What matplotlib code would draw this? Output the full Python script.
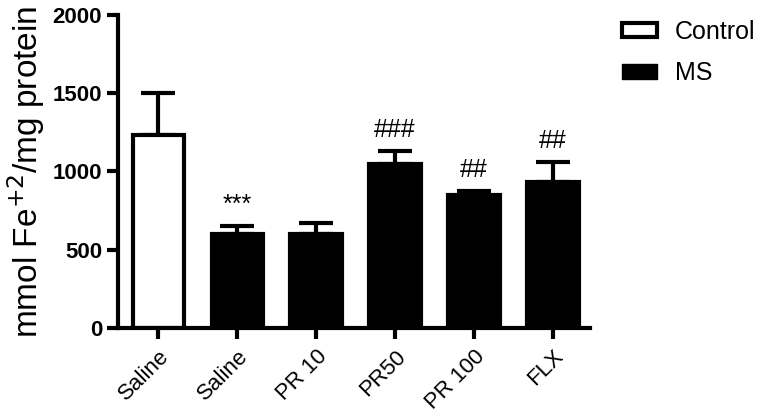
import matplotlib
matplotlib.use("Agg")
import matplotlib.pyplot as plt
from matplotlib.patches import Patch

plt.rcParams['font.family'] = ['Liberation Sans', 'DejaVu Sans']

# datos
grupos = ["Saline", "Saline", "PR 10", "PR50", "PR 100", "FLX"]
medias = [1233, 599, 600, 1048, 850, 931]
errores = [267, 55, 73, 85, 27, 132]
es_control = [True, False, False, False, False, False]
marcas = ["", "***", "", "###", "##", "##"]

fig = plt.figure(figsize=(7.63, 4.16), dpi=100)
ax = fig.add_axes([0.1547, 0.2115, 0.6186, 0.7525])

x = list(range(len(grupos)))
colores = ["white" if c else "black" for c in es_control]
ax.bar(x, medias, width=0.65, color=colores, edgecolor="black", linewidth=3, zorder=2)
ax.errorbar(x, medias, yerr=[[0] * len(errores), errores], fmt="none",
            ecolor="black", elinewidth=3, capsize=12, capthick=3, zorder=1)

# marcas de significancia sobre las barras
for xi, m, e, txt in zip(x, medias, errores, marcas):
    if txt:
        ax.text(xi, m + e + 55, txt, ha="center", va="bottom", fontsize=18, color="black")

ax.set_xlim(-0.51, 5.47)
ax.set_ylim(0, 2000)
ax.set_yticks([0, 500, 1000, 1500, 2000])
ax.set_xticks(x)
ax.set_xticklabels(grupos, rotation=45, ha="right", rotation_mode="anchor", fontsize=16)
for lab in ax.get_yticklabels():
    lab.set_fontsize(16)
    lab.set_fontweight("bold")
ax.tick_params(axis="both", width=3, length=8, direction="out")
ax.tick_params(axis="x", pad=5)
ax.spines["top"].set_visible(False)
ax.spines["right"].set_visible(False)
ax.spines["left"].set_linewidth(3)
ax.spines["bottom"].set_linewidth(3)
ax.set_ylabel("mmol Fe$^{+2}$/mg protein", fontsize=24, labelpad=4)

handles = [Patch(facecolor="white", edgecolor="black", linewidth=3, label="Control"),
           Patch(facecolor="black", edgecolor="black", label="MS")]
ax.legend(handles=handles, loc="upper left", bbox_to_anchor=(1.068, 0.985), frameon=False,
          fontsize=18, handlelength=1.4, handleheight=0.52, handletextpad=0.72,
          labelspacing=0.7, borderpad=0, borderaxespad=0)

fig.savefig("out.png", dpi=100)
